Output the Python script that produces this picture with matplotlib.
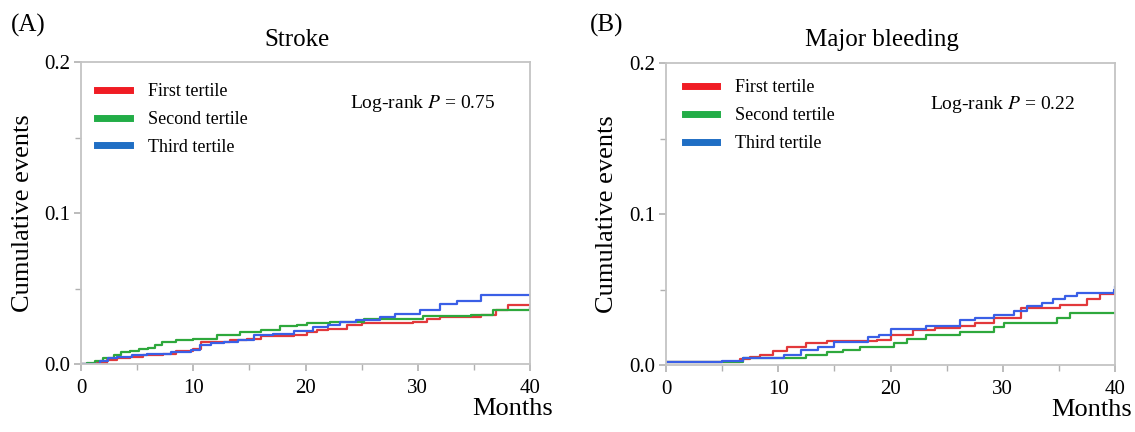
import matplotlib
matplotlib.use("Agg")
import matplotlib.pyplot as plt
from matplotlib.ticker import MultipleLocator

plt.rcParams['font.family'] = ['Liberation Serif', 'DejaVu Serif']
plt.rcParams['mathtext.fontset'] = 'stix'

# Stroke panel (A) - step curves, months vs cumulative events
stroke_t1_t = [0, 1.4, 2.3, 3.2, 4.4, 5.5, 7.3, 8.5, 10.0, 10.7, 12.0, 13.3, 14.8, 16.0, 19.0,
               20.1, 21.0, 22.0, 23.7, 25.0, 29.6, 30.8, 32.0, 35.6, 37.0, 38.0, 40]
stroke_t1_v = [0, 0.001, 0.0026, 0.004, 0.005, 0.006, 0.007, 0.0085, 0.010, 0.0148, 0.015, 0.016,
               0.017, 0.0185, 0.019, 0.0215, 0.0225, 0.0236, 0.026, 0.027, 0.028, 0.030, 0.031,
               0.0325, 0.036, 0.0395, 0.0395]
stroke_t2_t = [0, 0.5, 1.2, 2.0, 2.9, 3.6, 4.4, 5.2, 6.0, 6.6, 7.2, 8.5, 10.0, 12.1, 14.2, 16.0,
               17.7, 19.2, 20.1, 22.2, 25.2, 30.5, 34.7, 36.7, 40]
stroke_t2_v = [0, 0.001, 0.002, 0.004, 0.006, 0.008, 0.009, 0.010, 0.011, 0.013, 0.015, 0.016,
               0.017, 0.019, 0.021, 0.0225, 0.025, 0.026, 0.027, 0.028, 0.0296, 0.032, 0.0325,
               0.036, 0.037]
stroke_t3_t = [0, 1.7, 2.4, 3.2, 4.5, 5.9, 8.0, 9.8, 10.6, 11.6, 12.7, 14.0, 15.4, 17.1, 19.0,
               20.7, 22.0, 23.1, 24.5, 26.6, 28.0, 30.2, 32.0, 33.5, 35.6, 40]
stroke_t3_v = [0, 0.002, 0.004, 0.005, 0.006, 0.0066, 0.008, 0.0093, 0.0126, 0.0138, 0.0148, 0.016,
               0.019, 0.020, 0.022, 0.0247, 0.026, 0.028, 0.029, 0.031, 0.033, 0.0358, 0.040,
               0.042, 0.0457, 0.0457]

# Major bleeding panel (B)
bleed_t1_t = [0, 6.6, 7.5, 8.4, 9.5, 10.8, 12.5, 14.3, 18.8, 20.0, 22.0, 24.0, 26.2, 27.5, 29.2,
              31.6, 35.1, 37.5, 38.7, 40]
bleed_t1_v = [0.002, 0.004, 0.0055, 0.0066, 0.009, 0.012, 0.0143, 0.016, 0.0165, 0.0197, 0.023,
              0.0245, 0.026, 0.028, 0.031, 0.038, 0.040, 0.044, 0.047, 0.047]
bleed_t2_t = [0, 3.8, 6.9, 12.5, 14.3, 15.8, 17.3, 20.3, 21.5, 23.2, 26.2, 29.2, 30.1, 34.8,
              36.0, 40]
bleed_t2_v = [0.002, 0.0022, 0.0044, 0.0066, 0.0088, 0.010, 0.012, 0.0143, 0.017, 0.020, 0.022,
              0.025, 0.028, 0.031, 0.0345, 0.0345]
bleed_t3_t = [0, 5.0, 6.9, 10.5, 12.0, 13.5, 15.0, 18.0, 19.0, 20.0, 23.2, 26.2, 27.5, 29.2,
              31.0, 32.2, 33.5, 34.5, 35.5, 36.6, 39.9, 40]
bleed_t3_v = [0.002, 0.003, 0.0044, 0.0066, 0.010, 0.012, 0.015, 0.0186, 0.020, 0.024, 0.026,
              0.0296, 0.031, 0.033, 0.036, 0.039, 0.041, 0.044, 0.046, 0.048, 0.050, 0.052]

labels = ["First tertile", "Second tertile", "Third tertile"]
line_colors = ["#e2383b", "#2ea83c", "#3a5fe6"]
legend_colors = ["#f01c24", "#22ad47", "#1f6ec4"]

panels = [
    dict(tag="(A)", title="Stroke", p="0.75",
         series=[(stroke_t1_t, stroke_t1_v), (stroke_t2_t, stroke_t2_v), (stroke_t3_t, stroke_t3_v)],
         rect=[0.0714, 0.157, 0.3956, 0.699], tag_x=0.010, ylab_x=-0.104, months_x=1.05,
         leg=(0.0, 0.985), pos=(0.599, 0.864)),
    dict(tag="(B)", title="Major bleeding", p="0.22",
         series=[(bleed_t1_t, bleed_t1_v), (bleed_t2_t, bleed_t2_v), (bleed_t3_t, bleed_t3_v)],
         rect=[0.5868, 0.155, 0.3956, 0.699], tag_x=0.520, ylab_x=-0.108, months_x=1.038,
         leg=(0.005, 1.0), pos=(0.588, 0.864)),
]

fig = plt.figure(figsize=(11.35, 4.32), dpi=100)

for pnl in panels:
    ax = fig.add_axes(pnl["rect"])
    for (t, v), c in zip(pnl["series"], line_colors):
        ax.step(t, v, where="post", color=c, lw=1.6)
    ax.set_xlim(0, 40)
    ax.set_ylim(0, 0.2)
    ax.xaxis.set_major_locator(MultipleLocator(10))
    ax.xaxis.set_minor_locator(MultipleLocator(5))
    ax.yaxis.set_major_locator(MultipleLocator(0.1))
    ax.yaxis.set_minor_locator(MultipleLocator(0.05))
    ax.yaxis.set_major_formatter(plt.FormatStrFormatter("%.1f"))
    for s in ax.spines.values():
        s.set_color("#c4c4c4")
        s.set_linewidth(1.3)
    ax.tick_params(which="both", direction="out", color="#b0b0b0", labelsize=15)
    ax.tick_params(which="major", length=5, width=1.2)
    ax.tick_params(which="minor", length=4, width=1.0)
    ax.tick_params(axis="x", pad=6)
    ax.tick_params(axis="y", pad=3)
    ax.set_title(pnl["title"], fontsize=18, pad=12, x=0.48)
    ax.set_ylabel("Cumulative events", fontsize=19)
    ax.yaxis.set_label_coords(pnl["ylab_x"], 0.5)
    ax.text(pnl["months_x"], -0.15, "Months", transform=ax.transAxes, ha="right", va="center",
            fontsize=19)
    ax.text(pnl["pos"][0], pnl["pos"][1], "Log-rank $P$ = " + pnl["p"], transform=ax.transAxes,
            ha="left", va="center", fontsize=14)
    handles = [plt.Line2D([], [], color=c, lw=5) for c in legend_colors]
    ax.legend(handles, labels, loc="upper left", bbox_to_anchor=pnl["leg"], frameon=False,
              fontsize=13, handlelength=1.8, handletextpad=1.0, labelspacing=0.6)
    fig.text(pnl["tag_x"], 0.942, pnl["tag"], fontsize=18, ha="left", va="center")

fig.savefig("out.png", dpi=100)
